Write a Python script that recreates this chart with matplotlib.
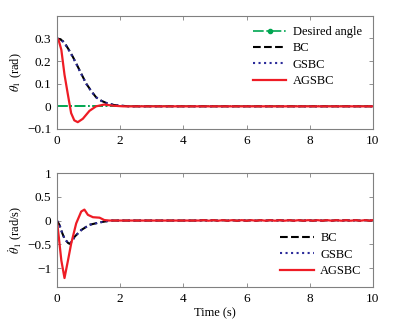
import matplotlib
matplotlib.use('Agg')
import matplotlib.pyplot as plt
from matplotlib.lines import Line2D

plt.rcParams['font.family'] = ['Liberation Serif', 'DejaVu Serif']
plt.rcParams['mathtext.fontset'] = 'stix'
plt.rcParams['font.size'] = 9

# angle (top panel)
t_bc = [0, 0.1, 0.2, 0.29, 0.4, 0.5, 0.61, 0.75, 0.93, 1.1, 1.24, 1.4, 1.56, 1.8, 2.0, 2.3, 10]
th_bc = [0.3, 0.297, 0.287, 0.27, 0.245, 0.22, 0.19, 0.15, 0.10, 0.065, 0.04, 0.025, 0.015, 0.006, 0.003, 0.0, 0.0]
th_gsbc = [0.3, 0.296, 0.285, 0.268, 0.243, 0.218, 0.188, 0.148, 0.099, 0.064, 0.04, 0.025, 0.015, 0.006, 0.003, 0.0, 0.0]

t_ag = [0, 0.05, 0.14, 0.24, 0.35, 0.45, 0.55, 0.66, 0.82, 1.03, 1.24, 1.5, 1.77, 2.1, 10]
th_ag = [0.3, 0.295, 0.25, 0.14, 0.05, -0.03, -0.062, -0.07, -0.055, -0.02, 0.0, 0.008, 0.003, 0.0, 0.0]

t_des = [0, 10]
th_des = [0, 0]

# angular velocity (bottom panel)
t_vbc = [0, 0.08, 0.16, 0.24, 0.35, 0.4, 0.48, 0.56, 0.77, 1.03, 1.35, 1.7, 4.5]
w_bc = [0, -0.09, -0.25, -0.38, -0.47, -0.49, -0.44, -0.34, -0.2, -0.09, -0.04, 0.0, 0.0]
w_gsbc = [0, -0.09, -0.25, -0.38, -0.47, -0.49, -0.44, -0.34, -0.2, -0.09, -0.04, 0.0, 0.0]

t_vag = [0, 0.06, 0.14, 0.24, 0.35, 0.45, 0.61, 0.77, 0.87, 0.98, 1.14, 1.35, 1.5, 1.66, 4.5]
w_ag = [0, -0.35, -0.84, -1.21, -0.84, -0.49, -0.06, 0.19, 0.23, 0.12, 0.07, 0.06, 0.01, 0.0, 0.0]

# small ripple late in the run
t_rip = [4.65, 4.8, 4.95, 5.1, 5.25, 5.4, 5.55, 5.7, 5.85, 6.0, 6.15, 6.3, 6.45, 6.6, 6.75, 6.9,
         7.05, 7.2, 7.35, 7.5, 7.65, 7.8, 7.95, 8.1, 8.25, 8.4, 8.55, 8.7, 8.85, 9.0, 9.15, 9.3, 9.45,
         9.6, 9.75, 9.9, 10]
w_rip = [0.008, -0.004, 0.008, -0.004, 0.008, -0.004, 0.008, -0.004, 0.008, -0.004, 0.008, -0.004,
         0.008, -0.004, 0.008, -0.004, 0.008, -0.004, 0.008, -0.004, 0.008, -0.004, 0.008, -0.004,
         0.008, -0.004, 0.008, -0.004, 0.008, -0.004, 0.008, -0.004, 0.008, -0.004, 0.008, -0.004, 0.01]

green = '#00a651'
navy = '#2b2b9a'
red = '#ee1c25'

fig = plt.figure(figsize=(3.98, 3.24), dpi=100)
ax1 = fig.add_axes([0.143, 0.602, 0.794, 0.349])
ax2 = fig.add_axes([0.143, 0.114, 0.794, 0.352])

ax1.plot(t_des, th_des, color=green, linestyle='-.', lw=1.2)
ax1.plot(t_bc, th_bc, color='black', linestyle='--', lw=1.5)
ax1.plot(t_bc, th_gsbc, color=navy, linestyle=':', lw=1.5)
ax1.plot(t_ag, th_ag, color=red, lw=1.6)
# desired angle visible over the traces near the start
ax1.plot([0, 2.2], [0, 0], color=green, linestyle='-.', lw=1.2, zorder=1.5)

ax1.set_xlim(0, 10)
ax1.set_ylim(-0.1, 0.4)
ax1.set_yticks([-0.1, 0, 0.1, 0.2, 0.3])
ax1.set_yticklabels(['\u22120.1', '0', '0.1', '0.2', '0.3'])
ax1.set_xticks([0, 2, 4, 6, 8, 10])
ax1.set_ylabel(r'$\theta_1$ (rad)', labelpad=2)

handles = [
    Line2D([], [], color=green, linestyle='-.', lw=1.2, marker='o', markersize=3),
    Line2D([], [], color='black', linestyle='--', lw=1.5),
    Line2D([], [], color=navy, linestyle=':', lw=1.5),
    Line2D([], [], color=red, lw=1.6),
]
ax1.legend(handles, ['Desired angle', 'BC', 'GSBC', 'AGSBC'], frameon=False,
           loc='upper right', bbox_to_anchor=(1.0, 1.01), numpoints=1,
           handlelength=2.7, handletextpad=0.5, labelspacing=0.35)

ax2.plot(t_vbc + t_rip, w_bc + w_rip, color='black', linestyle='--', lw=1.5, label='BC')
ax2.plot(t_vbc + t_rip, w_gsbc + w_rip, color=navy, linestyle=':', lw=1.5, label='GSBC')
ax2.plot(t_vag + t_rip, w_ag + w_rip, color=red, lw=1.6, label='AGSBC')

ax2.set_xlim(0, 10)
ax2.set_ylim(-1.4, 1)
ax2.set_yticks([-1, -0.5, 0, 0.5, 1])
ax2.set_yticklabels(['\u22121', '\u22120.5', '0', '0.5', '1'])
ax2.set_xticks([0, 2, 4, 6, 8, 10])
ax2.set_ylabel(r'$\dot{\theta}_1$ (rad/s)', labelpad=2)
ax2.set_xlabel('Time (s)', labelpad=2)
ax2.legend(frameon=False, loc='lower right', bbox_to_anchor=(1.0, -0.01),
           handlelength=2.7, handletextpad=0.5, labelspacing=0.35)

for ax in (ax1, ax2):
    for s in ax.spines.values():
        s.set_color('#808080')
        s.set_linewidth(0.8)
    ax.tick_params(direction='in', top=True, right=True, length=3, width=0.6,
                   color='#808080', labelsize=9.5, pad=4)

fig.savefig('out.png', dpi=100)
